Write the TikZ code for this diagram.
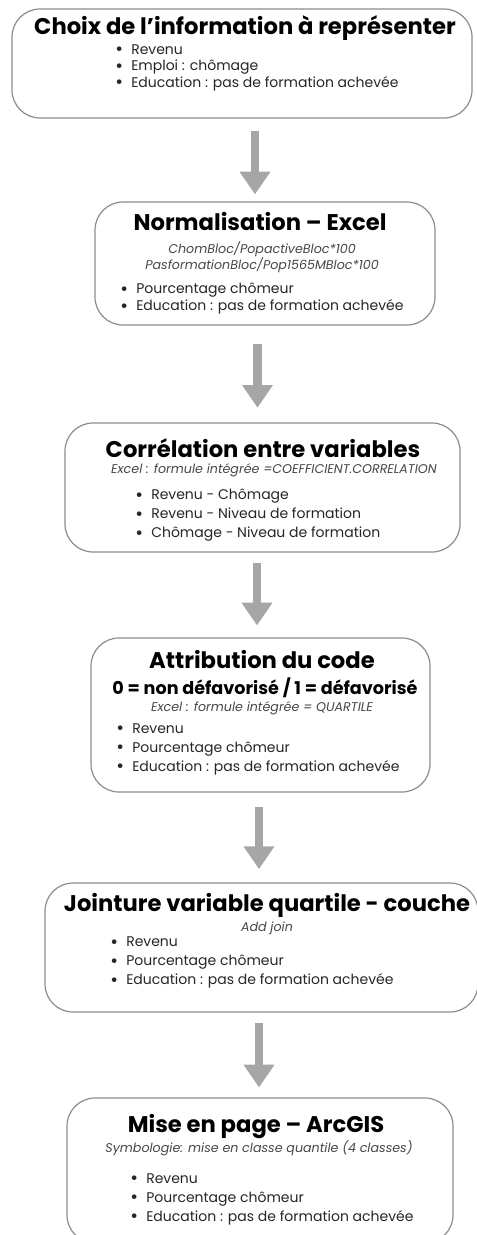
\documentclass[tikz,border=0pt]{standalone}
\usepackage{fontspec}
\setmainfont{Poppins}
\usetikzlibrary{arrows.meta}

\definecolor{bordgris}{HTML}{8C8C8C}
\definecolor{flechegris}{HTML}{A6A6A6}
\definecolor{textegris}{HTML}{262626}
\newcommand{\puce}{\makebox[12pt][l]{\raisebox{-0.13em}{\scalebox{1.35}{\textbullet}}}}

\tikzset{
    etape/.style={draw=bordgris, line width=0.9pt, rounded corners=21pt, fill=white},
    titre/.style={font=\fontsize{17}{19}\selectfont\bfseries, inner sep=0pt},
    soustitre/.style={font=\fontsize{13.2}{15}\selectfont\bfseries, inner sep=0pt},
    formule/.style={font=\fontsize{9.5}{12}\selectfont\itshape, text=textegris!85, align=center, inner sep=0pt},
    liste/.style={font=\fontsize{10.5}{14.25}\selectfont, text=textegris, align=left, anchor=west, inner sep=0pt},
    fleche/.style={draw=flechegris, line width=6.5pt, -{Triangle[length=17pt, width=22pt]}}
}

\begin{document}
\begin{tikzpicture}[x={(0.75pt,0pt)}, y={(0pt,-0.75pt)}]

    \clip (0,0) rectangle (477,1235);

    % boites
    \node[etape, minimum width=345pt, minimum height=81.75pt] (b1) at (242,63.5) {};
    \node[etape, minimum width=255pt, minimum height=92.25pt] (b2) at (265,263.5) {};
    \node[etape, minimum width=296.25pt, minimum height=96.75pt] (b3) at (262.5,487.5) {};
    \node[etape, minimum width=254.25pt, minimum height=115.5pt] (b4) at (260.5,715) {};
    \node[etape, minimum width=324.75pt, minimum height=96.75pt] (b5) at (261.5,947.5) {};
    \node[etape, minimum width=289.5pt, minimum height=108.75pt] (b6) at (260,1170.5) {};

    % 1
    \node[titre] (t1) at (245,28.5) {Choix de l’information à représenter};
    \node[liste, font=\fontsize{10.5}{12.4}\selectfont] (l1) at (115,67.5)
        {\puce Revenu\\ \puce Emploi : chômage\\ \puce Education : pas de formation achevée};

    % 2
    \node[titre] (t2) at (260,222) {Normalisation – Excel};
    \node[formule] (f2) at (262,257)
        {ChomBloc/PopactiveBloc*100\\ PasformationBloc/Pop1565MBloc*100};
    \node[liste, font=\fontsize{10.5}{12.75}\selectfont] (l2) at (120,298.5)
        {\puce Pourcentage chômeur\\ \puce Education : pas de formation achevée};

    % 3
    \node[titre] (t3) at (263,448) {Corrélation entre variables};
    \node[formule] (f3) at (274,470) {Excel : formule intégrée =COEFFICIENT.CORRELATION};
    \node[liste] (l3) at (135,515)
        {\puce Revenu - Chômage\\ \puce Revenu - Niveau de formation\\ \puce Chômage - Niveau de formation};

    % 4
    \node[titre] (t4) at (262,660) {Attribution du code};
    \node[soustitre] (s4) at (265,688) {0 = non défavorisé / 1 = défavorisé};
    \node[formule] (f4) at (262,708) {Excel : formule intégrée = QUARTILE};
    \node[liste] (l4) at (116,749)
        {\puce Revenu\\ \puce Pourcentage chômeur\\ \puce Education : pas de formation achevée};

    % 5
    \node[titre] (t5) at (267,905) {Jointure variable quartile - couche};
    \node[formule] (f5) at (267,928) {Add join};
    \node[liste] (l5) at (110,962.5)
        {\puce Revenu\\ \puce Pourcentage chômeur\\ \puce Education : pas de formation achevée};

    % 6
    \node[titre] (t6) at (256,1127) {Mise en page – ArcGIS};
    \node[formule] (f6) at (259,1148) {Symbologie: mise en classe quantile (4 classes)};
    \node[liste] (l6) at (130,1199)
        {\puce Revenu\\ \puce Pourcentage chômeur\\ \puce Education : pas de formation achevée};

    % fleches
    \coordinate (x1) at (255,0);
    \coordinate (x2) at (257.5,0);
    \coordinate (x3) at (257,0);
    \coordinate (x4) at (259,0);
    \coordinate (x5) at (259,0);
    \draw[fleche, shorten <=9pt, shorten >=5.25pt] (b1.south -| x1) -- (b2.north -| x1);
    \draw[fleche, shorten <=13.5pt, shorten >=11pt] (b2.south -| x2) -- (b3.north -| x2);
    \draw[fleche, shorten <=8pt, shorten >=9pt] (b3.south -| x3) -- (b4.north -| x3);
    \draw[fleche, shorten <=11pt, shorten >=10pt] (b4.south -| x4) -- (b5.north -| x4);
    \draw[fleche, shorten <=7.5pt, shorten >=7.5pt] (b5.south -| x5) -- (b6.north -| x5);

\end{tikzpicture}
\end{document}
